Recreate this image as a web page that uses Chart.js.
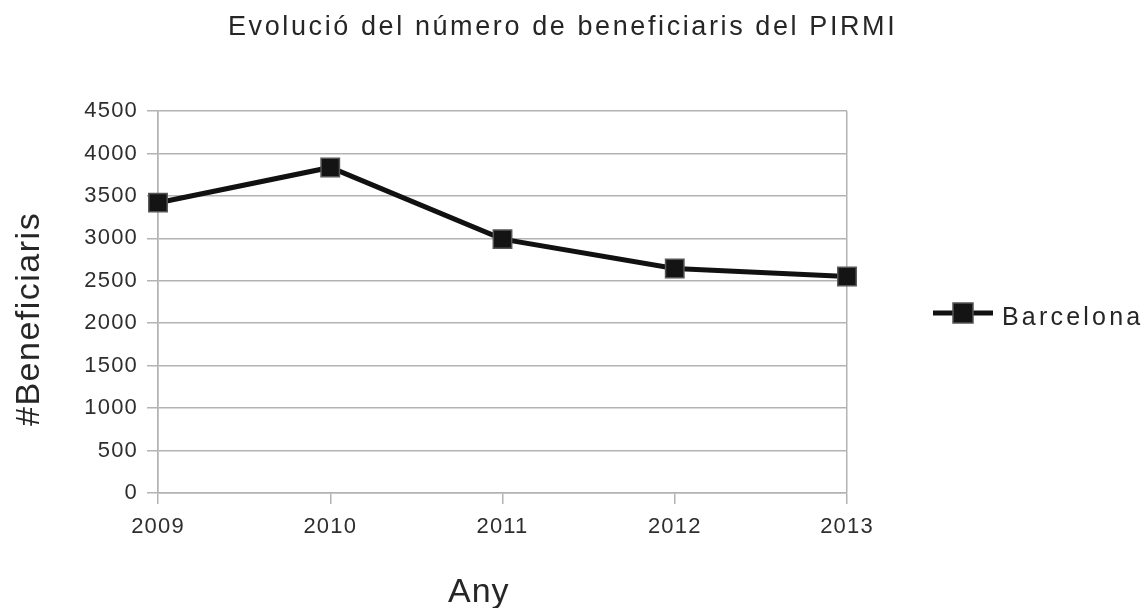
<!DOCTYPE html>
<html><head><meta charset="utf-8">
<script src="https://cdn.jsdelivr.net/npm/chart.js@4.4.1/dist/chart.umd.min.js"></script>
<style>html,body{margin:0;padding:0;background:#fff;} canvas{display:block}</style>
</head><body>
<canvas id="c" width="1148" height="608"></canvas>
<script>
const chartTitle = 'Evolució del número de beneficiaris del PIRMI';
const xTitle = 'Any';
const yTitle = '#Beneficiaris';
const seriesName = 'Barcelona';
const years = ['2009', '2010', '2011', '2012', '2013'];
const beneficiaris = [3420, 3835, 2990, 2645, 2550];
const yTicks = [0, 500, 1000, 1500, 2000, 2500, 3000, 3500, 4000, 4500];

const GRID = '#b3b3b3';
const TEXT = '#2e2e2e';
const FONT = "'Liberation Sans', Arial, sans-serif";

const textPlugin = {
  id: 'texts',
  beforeLayout(chart) { chart.ctx.letterSpacing = '1.2px'; },
  beforeDraw(chart) { chart.ctx.letterSpacing = '1.2px'; },
  afterDraw(chart) {
    const ctx = chart.ctx;
    ctx.save();
    ctx.fillStyle = '#262626';
    ctx.textBaseline = 'alphabetic';
    ctx.textAlign = 'left';
    // chart title
    ctx.font = '27px ' + FONT;
    ctx.letterSpacing = '2.6px';
    ctx.fillText(chartTitle, 228, 35);
    // x axis title
    ctx.font = '34px ' + FONT;
    ctx.letterSpacing = '1px';
    ctx.fillText(xTitle, 448, 602);
    // y axis title
    ctx.save();
    ctx.translate(39, 426);
    ctx.rotate(-Math.PI / 2);
    ctx.font = '34px ' + FONT;
    ctx.letterSpacing = '1.5px';
    ctx.fillText(yTitle, 0, 0);
    ctx.restore();
    // legend
    const ds = chart.data.datasets[0];
    const ly = 313;
    ctx.strokeStyle = ds.borderColor;
    ctx.lineWidth = ds.borderWidth;
    ctx.beginPath();
    ctx.moveTo(933, ly);
    ctx.lineTo(993, ly);
    ctx.stroke();
    ctx.fillStyle = ds.pointBackgroundColor;
    ctx.fillRect(953, ly - 10, 20, 20);
    ctx.strokeStyle = ds.pointBorderColor;
    ctx.lineWidth = 1.5;
    ctx.strokeRect(953, ly - 10, 20, 20);
    ctx.fillStyle = '#262626';
    ctx.font = '25px ' + FONT;
    ctx.letterSpacing = '3.2px';
    ctx.fillText(ds.label, 1002, 325);
    ctx.restore();
  }
};

new Chart(document.getElementById('c'), {
  type: 'line',
  data: {
    labels: years,
    datasets: [{
      label: seriesName,
      data: beneficiaris,
      borderColor: '#111111',
      borderWidth: 5,
      pointStyle: 'rect',
      pointRadius: 13,
      pointHoverRadius: 13,
      pointBackgroundColor: '#141414',
      pointBorderColor: '#555555',
      pointBorderWidth: 1.5,
      tension: 0,
      clip: false
    }]
  },
  options: {
    responsive: false,
    devicePixelRatio: 1,
    animation: false,
    events: [],
    layout: { padding: { top: 111, right: 301, bottom: 0, left: 0 } },
    plugins: { legend: { display: false }, title: { display: false }, tooltip: { enabled: false } },
    scales: {
      x: {
        type: 'category',
        offset: false,
        afterFit(s) { s.height = 115; },
        grid: {
          color: c => (c.index === 0 || c.index === years.length - 1) ? GRID : 'rgba(0,0,0,0)',
          tickColor: GRID,
          lineWidth: 1.5,
          tickLength: 11,
          drawTicks: true
        },
        border: { display: true, color: GRID, width: 1.5 },
        ticks: { color: TEXT, font: { family: FONT, size: 22 }, padding: 10, maxRotation: 0 }
      },
      y: {
        min: yTicks[0],
        max: yTicks[yTicks.length - 1],
        afterFit(s) { s.width = 158; },
        afterBuildTicks(s) { s.ticks = yTicks.map(v => ({ value: v })); },
        grid: { color: GRID, lineWidth: 1.5, tickLength: 11, drawTicks: true },
        border: { display: true, color: GRID, width: 1.5 },
        ticks: { color: TEXT, font: { family: FONT, size: 22 }, padding: 9, callback: v => String(v) }
      }
    }
  },
  plugins: [textPlugin]
});
</script>
</body></html>
